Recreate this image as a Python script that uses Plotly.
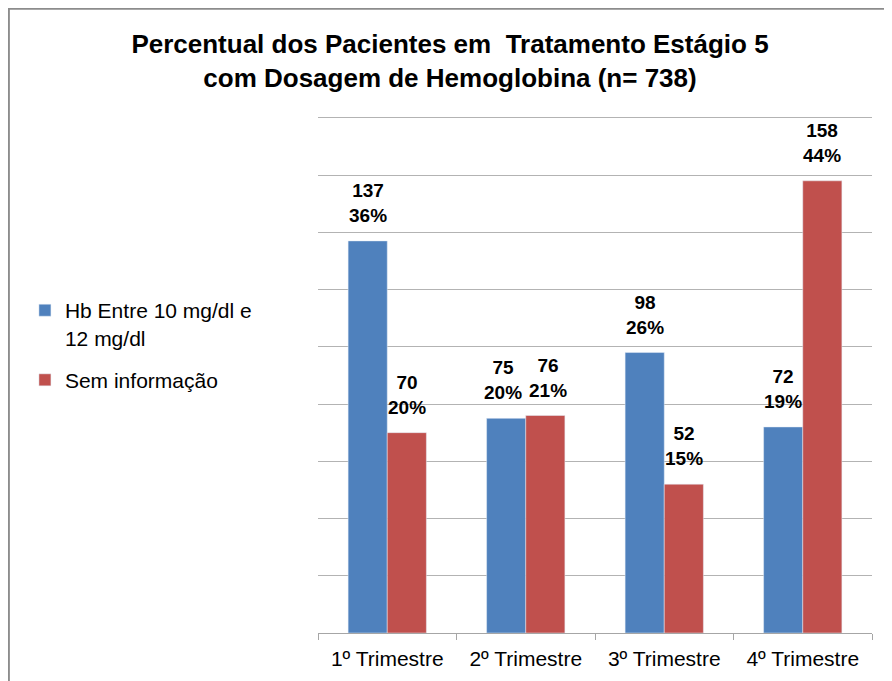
import plotly.graph_objects as go

# dados do gráfico
categorias = ['1º Trimestre', '2º Trimestre', '3º Trimestre', '4º Trimestre']
hb_valores = [137, 75, 98, 72]
hb_pct = ['36%', '20%', '26%', '19%']
sem_info_valores = [70, 76, 52, 158]
sem_info_pct = ['20%', '21%', '15%', '44%']

AZUL = '#4f81bd'
VERMELHO = '#c0504d'
BARGAP = 0.435


def rotulo(v, p):
    return f'<b>{v}<br>{p}</b>'


fig = go.Figure()

fig.add_trace(go.Bar(
    x=categorias,
    y=hb_valores,
    name='Hb Entre 10 mg/dl e<br>12 mg/dl',
    legendgroup='hb',
    marker=dict(color=AZUL),
))
fig.add_trace(go.Bar(
    x=categorias,
    y=sem_info_valores,
    name='Sem informação',
    legendgroup='sem',
    marker=dict(color=VERMELHO),
))

# a página tem margem de 8px no body: figura um pouco menor que a janela
largura, altura = 884, 673
margem = dict(l=310, r=20, t=107, b=48)

# meia largura de barra em px, para deslocar os rótulos sobre cada barra
largura_cat = (largura - margem['l'] - margem['r']) / len(categorias)
meia_barra = largura_cat * (1 - BARGAP) / 4

for i, cat in enumerate(categorias):
    # barras com altura parecida: afasta um pouco os rótulos
    afasta = 3 if abs(hb_valores[i] - sem_info_valores[i]) < 10 else 0
    for valores, pcts, lado in ((hb_valores, hb_pct, -1), (sem_info_valores, sem_info_pct, 1)):
        fig.add_annotation(
            x=cat, y=valores[i],
            xref='x', yref='y',
            text=rotulo(valores[i], pcts[i]),
            showarrow=False,
            xshift=lado * (meia_barra + afasta),
            yshift=13,
            yanchor='bottom',
            font=dict(size=19, color='#000000', family='Arial'),
        )

fig.update_layout(
    width=largura,
    height=altura,
    title=dict(
        text='<b>Percentual dos Pacientes em  Tratamento Estágio 5<br>com Dosagem de Hemoglobina (n= 738)</b>',
        x=0.5,
        xanchor='center',
        xref='container',
        y=0.933,
        yref='container',
        yanchor='middle',
        font=dict(size=26, color='#000000', family='Arial'),
    ),
    barmode='group',
    bargap=BARGAP,
    bargroupgap=0,
    plot_bgcolor='#ffffff',
    paper_bgcolor='#ffffff',
    font=dict(family='Arial', color='#000000', size=20),
    margin=margem,
    showlegend=True,
    legend=dict(
        x=-0.529,
        xanchor='left',
        y=0.662,
        yanchor='top',
        font=dict(size=21, family='Arial'),
        tracegroupgap=12,
        itemwidth=30,
        valign='top',
    ),
)

fig.update_xaxes(
    showline=True,
    linecolor='#a6a6a6',
    linewidth=1,
    ticks='outside',
    tickson='boundaries',
    ticklen=6,
    tickcolor='#a6a6a6',
    ticklabelstandoff=7,
    tickfont=dict(size=21, family='Arial', color='#000000'),
)
fig.update_yaxes(
    range=[0, 181],
    dtick=20,
    showgrid=True,
    gridcolor='#b3b3b3',
    gridwidth=1,
    showticklabels=False,
    zeroline=False,
)

# moldura do gráfico
fig.add_shape(
    type='rect',
    xref='paper', yref='paper',
    x0=-0.558, x1=1.06, y0=-0.12, y1=1.205,
    line=dict(color='#8c8c8c', width=2),
    fillcolor='rgba(0,0,0,0)',
    layer='below',
)

fig.write_html('out.html')
